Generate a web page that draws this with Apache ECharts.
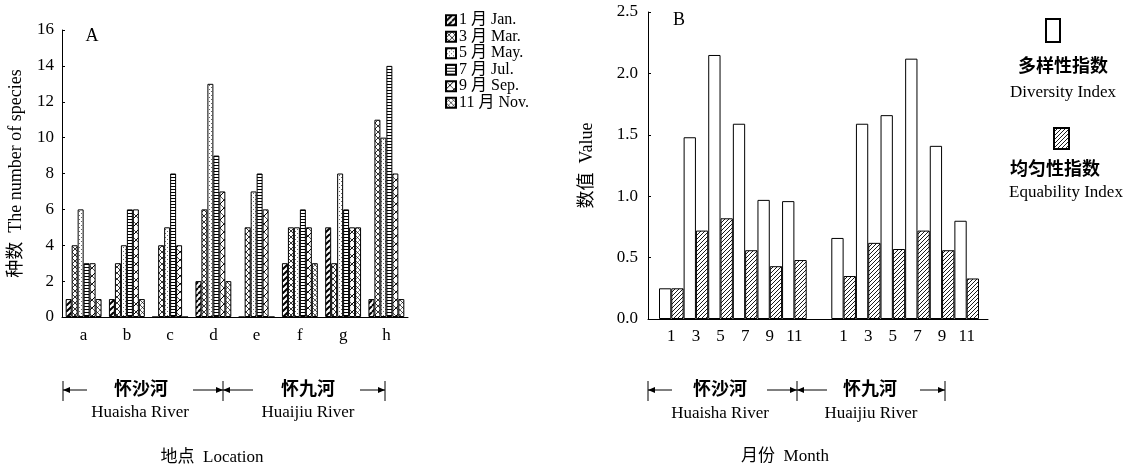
<!DOCTYPE html>
<html>
<head>
<meta charset="utf-8">
<script src="https://cdn.jsdelivr.net/npm/echarts@6/dist/echarts.min.js"></script>
<style>
  html, body { margin: 0; padding: 0; background: #fff; }
  #chart { width: 1143px; height: 468px; }
</style>
</head>
<body>
<div id="chart"></div>
<script>
// chart A data
var sites = ['a', 'b', 'c', 'd', 'e', 'f', 'g', 'h'];
var monthNames = ['1 月 Jan.', '3 月 Mar.', '5 月 May.', '7 月 Jul.', '9 月 Sep.', '11 月 Nov.'];
var jan = [1, 1, 0, 2, 0, 3, 5, 1];
var mar = [4, 3, 4, 6, 5, 5, 3, 11];
var may = [6, 4, 5, 13, 7, 5, 8, 10];
var jul = [3, 6, 8, 9, 8, 6, 6, 14];
var sep = [3, 6, 4, 7, 6, 5, 5, 8];
var nov = [1, 1, 0, 2, 0, 3, 5, 1];
var speciesTicks = [0, 16, 2];

// chart B data
var months = ['1', '3', '5', '7', '9', '11', '', '1', '3', '5', '7', '9', '11'];
var diversity = [0.25, 1.48, 2.15, 1.59, 0.97, 0.96, '-', 0.66, 1.59, 1.66, 2.12, 1.41, 0.80];
var equability = [0.25, 0.72, 0.82, 0.56, 0.43, 0.48, '-', 0.35, 0.62, 0.57, 0.72, 0.56, 0.33];
var valueTicks = [0, 2.5, 0.5];

var serif = "'Liberation Serif', 'Noto Sans CJK SC', serif";

function pat(size, draw) {
  var c = document.createElement('canvas');
  c.width = size; c.height = size;
  var g = c.getContext('2d');
  g.fillStyle = '#fff';
  g.fillRect(0, 0, size, size);
  g.strokeStyle = '#000';
  g.fillStyle = '#000';
  draw(g, size);
  return { image: c, repeat: 'repeat' };
}
function diag(g, s, w, dir) {
  g.lineWidth = w;
  g.beginPath();
  for (var k = -1; k <= 1; k++) {
    if (dir > 0) { g.moveTo(k * s, s); g.lineTo(k * s + s, 0); }
    else { g.moveTo(k * s, 0); g.lineTo(k * s + s, s); }
  }
  g.stroke();
}
var fills = [
  pat(6, function(g, s) { diag(g, s, 2, 1); }),
  pat(6, function(g, s) { diag(g, s, 0.8, 1); diag(g, s, 0.8, -1); }),
  pat(4, function(g, s) { g.fillStyle = '#666'; g.fillRect(1, 1, 1, 1); g.fillRect(3, 3, 1, 1); }),
  pat(3, function(g, s) { g.fillRect(0, 0, s, 1); }),
  pat(8, function(g, s) { diag(g, s, 1, 1); diag(g, s, 0.7, -1); }),
  pat(5, function(g, s) { diag(g, s, 0.7, -1); diag(g, s, 0.5, 1); })
];
var hatch = pat(4, function(g, s) { diag(g, s, 0.9, 1); });

var dataA = [jan, mar, may, jul, sep, nov];
var seriesA = [];
for (var i = 0; i < dataA.length; i++) {
  seriesA.push({
    name: monthNames[i],
    type: 'bar',
    xAxisIndex: 0,
    yAxisIndex: 0,
    data: dataA[i],
    barGap: '0%',
    barCategoryGap: '17%',
    itemStyle: { color: fills[i], borderColor: '#000', borderWidth: 1 }
  });
}

function arrowSet(x0, xm, x1, y) {
  var els = [];
  var lw = { stroke: '#000', lineWidth: 1 };
  [x0, xm, x1].forEach(function(x) {
    els.push({ type: 'line', shape: { x1: x, y1: y - 9, x2: x, y2: y + 11 }, style: lw });
  });
  function arrow(xa, xb, tip) {
    els.push({ type: 'line', shape: { x1: xa, y1: y, x2: xb, y2: y }, style: lw });
    var d = tip === xa ? 1 : -1;
    els.push({ type: 'polygon', shape: { points: [[tip, y], [tip + d * 7, y - 3], [tip + d * 7, y + 3]] }, style: { fill: '#000' } });
  }
  arrow(x0, x0 + 24, x0);
  arrow(xm - 30, xm, xm);
  arrow(xm, xm + 30, xm);
  arrow(x1 - 25, x1, x1);
  return els;
}
function txt(x, y, s, size, bold) {
  return {
    type: 'text', x: x, y: y,
    style: { text: s, fill: '#000', font: (bold ? 'bold ' : '') + size + 'px ' + serif, align: 'center', verticalAlign: 'middle' }
  };
}

var graphics = []
  .concat(arrowSet(63, 223, 385, 390))
  .concat(arrowSet(648, 797, 945, 390))
  .concat([
    txt(141, 390, '怀沙河', 18, true),
    txt(308, 390, '怀九河', 18, true),
    txt(140, 413, 'Huaisha River', 17),
    txt(308, 413, 'Huaijiu River', 17),
    txt(212, 458, '地点  Location', 17),
    txt(720, 390, '怀沙河', 18, true),
    txt(870, 390, '怀九河', 18, true),
    txt(720, 414, 'Huaisha River', 17),
    txt(871, 414, 'Huaijiu River', 17),
    txt(785, 457, '月份  Month', 17),
    txt(92, 36, 'A', 18),
    txt(679, 20, 'B', 18),
    txt(1063, 67, '多样性指数', 18, true),
    txt(1063, 93, 'Diversity Index', 17),
    txt(1055, 170, '均匀性指数', 18, true),
    txt(1066, 193, 'Equability Index', 17)
  ]);

var chart = echarts.init(document.getElementById('chart'));
chart.setOption({
  animation: false,
  textStyle: { fontFamily: serif, color: '#000' },
  grid: [
    { left: 62, top: 30, width: 346, height: 287 },
    { left: 648, top: 12, width: 340, height: 307 },
    { left: 659, top: 12, width: 320, height: 307 }
  ],
  legend: [
    {
      orient: 'vertical', left: 440, top: 7, icon: 'rect', itemWidth: 10, itemHeight: 10, itemGap: 0,
      selectedMode: false, data: monthNames,
      textStyle: { fontFamily: serif, fontSize: 16, lineHeight: 16.5, color: '#000', padding: [0, 0, 0, -2] }
    },
    {
      left: 1040, top: 13, icon: 'rect', itemWidth: 14, itemHeight: 23, selectedMode: false,
      data: ['多样性指数'], formatter: function() { return ''; }
    },
    {
      left: 1048, top: 122, icon: 'rect', itemWidth: 15, itemHeight: 21, selectedMode: false,
      data: ['均匀性指数'], formatter: function() { return ''; }
    }
  ],
  xAxis: [
    {
      gridIndex: 0, type: 'category', data: sites,
      axisLine: { lineStyle: { color: '#000' } },
      axisTick: { inside: true, length: 3, lineStyle: { color: '#000' } },
      axisLabel: { color: '#000', fontSize: 17, margin: 10, fontFamily: serif }
    },
    {
      gridIndex: 1, type: 'value', min: 0, max: 1,
      axisLine: { show: true, lineStyle: { color: '#000' } },
      axisTick: { show: false }, axisLabel: { show: false }, splitLine: { show: false }
    },
    {
      gridIndex: 2, type: 'category', data: months,
      axisLine: { show: false },
      axisTick: { inside: true, length: 3, lineStyle: { color: '#000' } },
      axisLabel: { color: '#000', fontSize: 17, margin: 9, fontFamily: serif }
    }
  ],
  yAxis: [
    {
      gridIndex: 0, type: 'value', min: speciesTicks[0], max: speciesTicks[1], interval: speciesTicks[2],
      name: '种数  The number of species', nameLocation: 'middle', nameGap: 37, nameRotate: 90,
      nameTextStyle: { fontSize: 18, fontFamily: serif, color: '#000' },
      axisLine: { show: true, lineStyle: { color: '#000' } },
      axisTick: { show: true, inside: true, length: 3, lineStyle: { color: '#000' } },
      axisLabel: { color: '#000', fontSize: 17, margin: 8, fontFamily: serif },
      splitLine: { show: false }
    },
    {
      gridIndex: 1, type: 'value', min: valueTicks[0], max: valueTicks[1], interval: valueTicks[2],
      name: '数值  Value', nameLocation: 'middle', nameGap: 52, nameRotate: 90,
      nameTextStyle: { fontSize: 18, fontFamily: serif, color: '#000' },
      axisLine: { show: true, lineStyle: { color: '#000' } },
      axisTick: { show: true, inside: true, length: 3, lineStyle: { color: '#000' } },
      axisLabel: {
        color: '#000', fontSize: 17, margin: 10, fontFamily: serif,
        formatter: function(v) { return v.toFixed(1); }
      },
      splitLine: { show: false }
    },
    {
      gridIndex: 2, type: 'value', min: valueTicks[0], max: valueTicks[1], interval: valueTicks[2],
      show: false, splitLine: { show: false }
    }
  ],
  series: seriesA.concat([
    {
      name: '多样性指数', type: 'bar', xAxisIndex: 2, yAxisIndex: 2, data: diversity,
      barGap: '0%', barCategoryGap: '0%',
      itemStyle: { color: '#fff', borderColor: '#000', borderWidth: 1 }
    },
    {
      name: '均匀性指数', type: 'bar', xAxisIndex: 2, yAxisIndex: 2, data: equability,
      barGap: '0%', barCategoryGap: '0%',
      itemStyle: { color: hatch, borderColor: '#000', borderWidth: 1 }
    }
  ]),
  graphic: graphics
});
</script>
</body>
</html>
